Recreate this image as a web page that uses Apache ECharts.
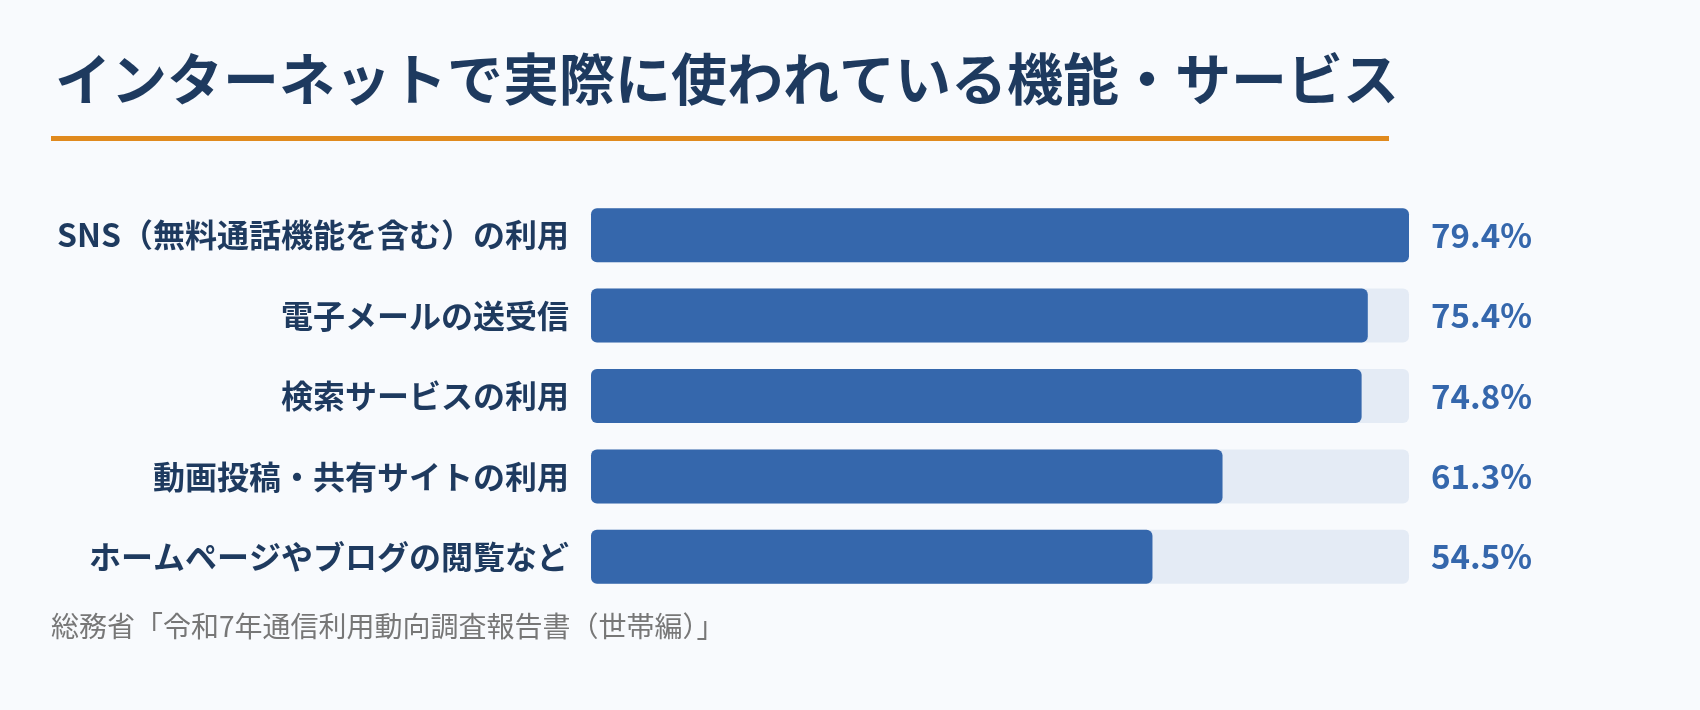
<!DOCTYPE html>
<html><head><meta charset="utf-8">
<script src="https://cdn.jsdelivr.net/npm/echarts@6/dist/echarts.min.js"></script>
<style>html,body{margin:0;background:#f8fafd}#c{width:1700px;height:710px}</style>
</head><body><div id="c"></div>
<script>
const categories = ['SNS（無料通話機能を含む）の利用','電子メールの送受信','検索サービスの利用','動画投稿・共有サイトの利用','ホームページやブログの閲覧など'];
const values = [79.4,75.4,74.8,61.3,54.5];
const title = 'インターネットで実際に使われている機能・サービス';
const source = '総務省「令和7年通信利用動向調査報告書（世帯編）」';
const maxV = Math.max(...values);
const font = '"Noto Sans CJK JP","Noto Sans",sans-serif';
const chart = echarts.init(document.getElementById('c'));
chart.setOption({
  backgroundColor:'#f8fafd',
  textStyle:{fontFamily:font},
  title:{text:title,left:50,top:46,textStyle:{fontSize:56,fontWeight:'bold',color:'#1e3a5f',fontFamily:font}},
  graphic:[
    {type:'rect',shape:{x:51,y:136,width:1338,height:5},style:{fill:'#e08a1e'}},
    {type:'text',left:51,top:612,style:{text:source,fontSize:28,fill:'#777',fontFamily:font}}
  ],
  grid:{left:591,right:291,top:195,bottom:113},
  xAxis:{type:'value',min:0,max:maxV,show:false},
  yAxis:{type:'category',data:categories,inverse:true,axisLine:{show:false},axisTick:{show:false},
    axisLabel:{margin:22,fontSize:32,fontWeight:'bold',color:'#1e3a5f',width:520,overflow:'break',lineHeight:54,fontFamily:font}},
  series:[
    {type:'bar',data:values,barWidth:54,showBackground:true,
     backgroundStyle:{color:'#e4ebf5',borderRadius:6},
     itemStyle:{color:'#3567ac',borderRadius:6},z:3},
    {type:'bar',data:values.map(()=>maxV),barWidth:54,barGap:'-100%',
     itemStyle:{color:'rgba(0,0,0,0)'},silent:true,z:2,
     label:{show:true,position:'right',distance:22,fontSize:33,fontWeight:'bold',color:'#3567ac',fontFamily:font,
       formatter:p=>values[p.dataIndex].toFixed(1)+'%'}}
  ]
});
</script></body></html>
